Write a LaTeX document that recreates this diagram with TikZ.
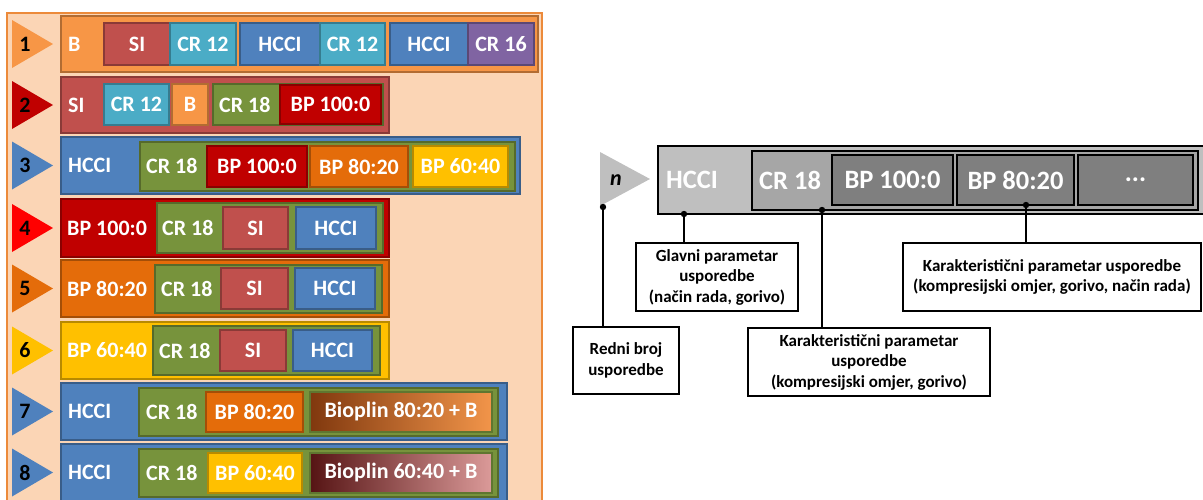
\documentclass[tikz,border=0pt]{standalone}
\usepackage{fontspec}
\setmainfont{Carlito}
\definecolor{cOr}{HTML}{F79646}
\definecolor{cRd}{HTML}{C0504D}
\definecolor{cCy}{HTML}{4BACC6}
\definecolor{cBl}{HTML}{4F81BD}
\definecolor{cPu}{HTML}{8064A2}
\definecolor{cGr}{HTML}{77933C}
\definecolor{cDr}{HTML}{C00000}
\definecolor{cO2}{HTML}{E46C0A}
\definecolor{cYe}{HTML}{FFC000}
\definecolor{cRR}{HTML}{FF0000}
\definecolor{cPeach}{HTML}{FBD5B5}
\definecolor{cFrame}{HTML}{EC8A3A}
\definecolor{cG1}{HTML}{BFBFBF}
\definecolor{cG2}{HTML}{A6A6A6}
\definecolor{cG3}{HTML}{7F7F7F}
\definecolor{cBrA}{HTML}{80380E}
\definecolor{cBrB}{HTML}{F2954A}
\definecolor{cMaA}{HTML}{561414}
\definecolor{cMaB}{HTML}{DB9A99}
\newcommand{\LFnt}{\fontsize{22}{25}\selectfont\bfseries}
\newcommand{\RFnt}{\fontsize{26.5}{29}\selectfont\bfseries}
\newcommand{\CFnt}{\fontsize{17}{20.5}\selectfont\bfseries}
\newcommand{\bx}[7]{\pgfmathsetmacro\bw{#4-#2}\pgfmathsetmacro\bh{#5-#3}%
  \node[#6,minimum width=\bw pt,minimum height=\bh pt,anchor=north west] (#1) at (#2,#3) {#7};}
\newcommand{\lab}[4]{\node[ltxt,anchor=west] (#1) at (#2,#3) {#4};}
\newcommand{\tri}[4]{\fill[#3] (12,#2-24) -- (53,#2) -- (12,#2+24) -- cycle;
  \node[num] (#1) at (25,#2) {#4};}
\begin{document}
\begin{tikzpicture}[x=1pt,y=-1pt,
  bx/.style={draw=#1!72!black, fill=#1, line width=1.2pt, inner sep=0pt, outer sep=0pt, text=white, font=\LFnt},
  gbx/.style 2 args={draw=cGr!80!black, left color=#1, right color=#2, line width=1.2pt, inner sep=0pt, outer sep=0pt, text=white, font=\LFnt},
  ltxt/.style={text=white, font=\LFnt, inner sep=0pt},
  num/.style={text=black, font=\LFnt, inner sep=0pt},
  rb/.style={draw=black, fill=#1, line width=1.6pt, inner sep=0pt, outer sep=0pt, text=white, font=\RFnt},
  rtxt/.style={text=white, font=\RFnt, inner sep=0pt},
  cb/.style={draw=black, fill=white, line width=1.6pt, inner sep=0pt, outer sep=0pt, text=black, font=\CFnt, align=center},
  conn/.style={draw=black, line width=1.6pt}]
\useasboundingbox (0,0) rectangle (1203,499);
\clip (0,0) rectangle (1203,499);
% ---------------- left panel
\bx{frame}{7}{13}{542}{520}{bx=cPeach,draw=cFrame,line width=1.8pt}{}
% row 1
\tri{n1}{44}{cOr}{1}
\bx{r1}{61}{16}{538}{72}{bx=cOr}{}
\lab{r1t}{68}{44}{B}
\bx{r1a}{104}{23}{170}{65}{bx=cRd}{SI}
\bx{r1b}{170}{23}{236}{65}{bx=cCy}{CR 12}
\bx{r1c}{240}{23}{320}{65}{bx=cBl}{HCCI}
\bx{r1d}{320}{23}{385}{65}{bx=cCy}{CR 12}
\bx{r1e}{390}{23}{468}{65}{bx=cBl}{HCCI}
\bx{r1f}{468}{23}{534}{65}{bx=cPu}{CR 16}
% row 2
\tri{n2}{105}{cDr}{2}
\bx{r2}{61}{77}{389}{133}{bx=cRd}{}
\lab{r2t}{68}{105}{SI}
\bx{r2a}{104}{84}{169}{125}{bx=cCy}{CR 12}
\bx{r2b}{172}{84}{208}{125}{bx=cOr}{B}
\bx{r2g}{213}{84}{383}{125}{bx=cGr}{}
\lab{r2gt}{219}{105}{CR 18}
\bx{r2c}{280}{85}{381}{124}{bx=cDr}{BP 100:0}
% row 3
\tri{n3}{165.5}{cBl}{3}
\bx{r3}{61}{137}{520}{194}{bx=cBl}{}
\lab{r3t}{68}{165.5}{HCCI}
\bx{r3g}{140}{142}{515}{191}{bx=cGr}{}
\lab{r3gt}{146}{165.5}{CR 18}
\bx{r3a}{207}{146}{307}{187}{bx=cDr}{BP 100:0}
\bx{r3b}{310}{146}{408}{187}{bx=cO2}{BP 80:20}
\bx{r3c}{413}{146}{508}{187}{bx=cYe}{BP 60:40}
% row 4
\tri{n4}{228}{cRR}{4}
\bx{r4}{61}{199}{389}{257}{bx=cDr}{}
\lab{r4t}{67}{228}{BP 100:0}
\bx{r4g}{157}{203}{383}{253}{bx=cGr}{}
\lab{r4gt}{162}{228}{CR 18}
\bx{r4a}{223}{207}{288}{249}{bx=cRd}{SI}
\bx{r4b}{296}{207}{376}{249}{bx=cBl}{HCCI}
% row 5
\tri{n5}{288.5}{cO2}{5}
\bx{r5}{61}{260}{389}{317}{bx=cO2}{}
\lab{r5t}{67}{288.5}{BP 80:20}
\bx{r5g}{155}{265}{382}{313}{bx=cGr}{}
\lab{r5gt}{161}{288.5}{CR 18}
\bx{r5a}{221}{268}{288}{309}{bx=cRd}{SI}
\bx{r5b}{295}{268}{375}{309}{bx=cBl}{HCCI}
% row 6
\tri{n6}{350.5}{cYe}{6}
\bx{r6}{61}{322}{389}{379}{bx=cYe}{}
\lab{r6t}{67}{350.5}{BP 60:40}
\bx{r6g}{153}{326}{380}{375}{bx=cGr}{}
\lab{r6gt}{159}{350.5}{CR 18}
\bx{r6a}{220}{330}{286}{371}{bx=cRd}{SI}
\bx{r6b}{293}{330}{372}{371}{bx=cBl}{HCCI}
% row 7
\tri{n7}{411.5}{cBl}{7}
\bx{r7}{61}{383}{507}{440}{bx=cBl}{}
\lab{r7t}{68}{411.5}{HCCI}
\bx{r7g}{139}{388}{498}{436}{bx=cGr}{}
\lab{r7gt}{146}{411.5}{CR 18}
\bx{r7a}{206}{392}{303}{432}{bx=cO2}{BP 80:20}
\bx{r7b}{310}{392}{492}{432}{gbx={cBrA}{cBrB}}{Bioplin 80:20 + B}
% row 8
\tri{n8}{472.5}{cBl}{8}
\bx{r8}{61}{444}{507}{503}{bx=cBl}{}
\lab{r8t}{68}{472.5}{HCCI}
\bx{r8g}{139}{449}{498}{497}{bx=cGr}{}
\lab{r8gt}{146}{472.5}{CR 18}
\bx{r8a}{208}{453}{302}{493}{bx=cYe}{BP 60:40}
\bx{r8b}{310}{453}{492}{493}{gbx={cMaA}{cMaB}}{Bioplin 60:40 + B}
% ---------------- right panel
\fill[cG1] (600,152) -- (650,179) -- (600,206) -- cycle;
\node[text=black, font=\fontsize{22}{24}\selectfont\bfseries\itshape, inner sep=0pt] (nn) at (616,180) {n};
\bx{ob}{658}{146}{1230}{214}{rb=cG1}{}
\node[rtxt,anchor=west] (thcci) at (666,180) {HCCI};
\bx{og}{752}{151}{1198}{210}{rb=cG2}{}
\node[rtxt,anchor=west] (tcr) at (759,180) {CR 18};
\bx{b1}{832}{155}{953}{205}{rb=cG3}{BP 100:0}
\bx{b2}{957}{155}{1074}{205}{rb=cG3}{BP 80:20}
\bx{b3}{1078}{155}{1193}{205}{rb=cG3}{\raisebox{-3pt}{...}}
% callouts
\bx{redni}{573}{327}{679}{394}{cb}{Redni broj\\usporedbe}
\bx{glavni}{636}{243}{798}{311}{cb}{Glavni parametar\\usporedbe\\(način rada, gorivo)}
\bx{kar1}{748}{328}{990}{396}{cb}{Karakteristični parametar\\usporedbe\\(kompresijski omjer, gorivo)}
\bx{kar2}{903}{243}{1201}{311}{cb}{Karakteristični parametar usporedbe\\(kompresijski omjer, gorivo, način rada)}
\coordinate (d1) at (603,207);
\coordinate (d2) at (684,214);
\coordinate (d3) at (822,210);
\coordinate (d4) at (1026,205);
\draw[conn] (d1) -- (d1 |- redni.north);
\draw[conn] (d2) -- (d2 |- glavni.north);
\draw[conn] (d3) -- (d3 |- kar1.north);
\draw[conn] (d4) -- (d4 |- kar2.north);
\foreach \d in {d1,d2,d3,d4} \fill (\d) circle (3.2);
\end{tikzpicture}
\end{document}
